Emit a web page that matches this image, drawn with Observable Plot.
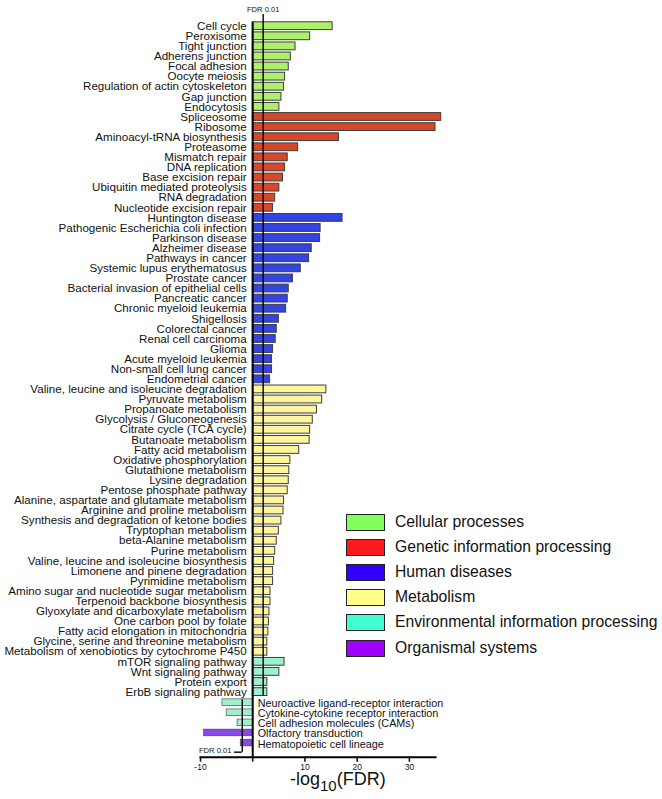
<!DOCTYPE html>
<html>
<head>
<meta charset="utf-8">
<script src="https://cdn.jsdelivr.net/npm/d3@7"></script>
<script src="https://cdn.jsdelivr.net/npm/@observablehq/plot@0.6"></script>
<style>
  html, body { margin: 0; padding: 0; background: #fff; }
  #wrap { position: relative; width: 662px; height: 799px; font-family: "Liberation Sans", Arial, Helvetica, sans-serif; }
  #legend { position: absolute; left: 346px; top: 514px; }
  .lrow { position: absolute; left: 0; height: 18px; white-space: nowrap; }
  .sw { position: absolute; left: 0; top: 0; width: 37px; height: 15px; border: 1.5px solid #222; }
  .lt { position: absolute; left: 49px; top: -1px; font-size: 15.7px; line-height: 18px; color: #111; }
  #xtitle { position: absolute; left: 290px; top: 773px; font-size: 18px; line-height: 13px; color: #111; white-space: nowrap; }
  #xtitle sub { font-size: 15px; vertical-align: -6px; line-height: 0; }
</style>
</head>
<body>
<div id="wrap"></div>
<script>
// ---------- data ----------
const categories = ["Cellular processes", "Genetic information processing", "Human diseases", "Metabolism", "Environmental information processing", "Organismal systems"];
const barColors = ["#aef06c", "#d9472a", "#3344e2", "#fff59d", "#9cf0cc", "#8a48e6"];
const legendColors = ["#80ff5c", "#ff1a22", "#3300ff", "#ffff88", "#40ffd0", "#a000ff"];

const cellularNames = ["Cell cycle", "Peroxisome", "Tight junction", "Adherens junction", "Focal adhesion", "Oocyte meiosis", "Regulation of actin cytoskeleton", "Gap junction", "Endocytosis"];
const cellularValues = [15.3, 11.0, 8.2, 7.3, 6.9, 6.2, 6.0, 5.5, 5.1];

const geneticNames = ["Spliceosome", "Ribosome", "Aminoacyl-tRNA biosynthesis", "Proteasome", "Mismatch repair", "DNA replication", "Base excision repair", "Ubiquitin mediated proteolysis", "RNA degradation", "Nucleotide excision repair"];
const geneticValues = [36.1, 35.0, 16.5, 8.7, 6.7, 6.2, 5.8, 5.1, 4.3, 3.9];

const humanNames = ["Huntington disease", "Pathogenic Escherichia coli infection", "Parkinson disease", "Alzheimer disease", "Pathways in cancer", "Systemic lupus erythematosus", "Prostate cancer", "Bacterial invasion of epithelial cells", "Pancreatic cancer", "Chronic myeloid leukemia", "Shigellosis", "Colorectal cancer", "Renal cell carcinoma", "Glioma", "Acute myeloid leukemia", "Non-small cell lung cancer", "Endometrial cancer"];
const humanValues = [17.2, 13.0, 12.9, 11.3, 10.8, 9.2, 7.7, 6.9, 6.7, 6.4, 5.0, 4.6, 4.4, 3.9, 3.7, 3.7, 3.3];

const metabolismNames = ["Valine, leucine and isoleucine degradation", "Pyruvate metabolism", "Propanoate metabolism", "Glycolysis / Gluconeogenesis", "Citrate cycle (TCA cycle)", "Butanoate metabolism", "Fatty acid metabolism", "Oxidative phosphorylation", "Glutathione metabolism", "Lysine degradation", "Pentose phosphate pathway", "Alanine, aspartate and glutamate metabolism", "Arginine and proline metabolism", "Synthesis and degradation of ketone bodies", "Tryptophan metabolism", "beta-Alanine metabolism", "Purine metabolism", "Valine, leucine and isoleucine biosynthesis", "Limonene and pinene degradation", "Pyrimidine metabolism", "Amino sugar and nucleotide sugar metabolism", "Terpenoid backbone biosynthesis", "Glyoxylate and dicarboxylate metabolism", "One carbon pool by folate", "Fatty acid elongation in mitochondria", "Glycine, serine and threonine metabolism", "Metabolism of xenobiotics by cytochrome P450"];
const metabolismValues = [14.1, 13.3, 12.3, 11.5, 11.0, 10.9, 8.9, 7.2, 7.0, 6.9, 6.7, 6.0, 5.9, 5.5, 5.0, 4.6, 4.3, 4.1, 3.9, 3.9, 3.4, 3.4, 3.2, 3.1, 3.0, 2.8, 2.8];

const environmentalNames = ["mTOR signaling pathway", "Wnt signaling pathway", "Protein export", "ErbB signaling pathway", "Neuroactive ligand-receptor interaction", "Cytokine-cytokine receptor interaction", "Cell adhesion molecules (CAMs)"];
const environmentalValues = [6.1, 5.1, 2.8, 2.8, -5.8, -5.0, -2.9];

const organismalNames = ["Olfactory transduction", "Hematopoietic cell lineage"];
const organismalValues = [-9.3, -2.3];

const xTicks = [-10, 0, 10, 20, 30];
const xDomain = [-10, 35];
const fdrThreshold = 2; // -log10(0.01)
const fdrLabel = "FDR 0.01";

// ---------- build table ----------
const groups = [
  [cellularNames, cellularValues],
  [geneticNames, geneticValues],
  [humanNames, humanValues],
  [metabolismNames, metabolismValues],
  [environmentalNames, environmentalValues],
  [organismalNames, organismalValues]
];
const rows = [];
groups.forEach(([names, vals], gi) => names.forEach((n, i) => rows.push({name: n, value: vals[i], category: categories[gi]})));
const names = rows.map(d => d.name);
const pos = rows.filter(d => d.value > 0);
const neg = rows.filter(d => d.value < 0);
const firstName = names[0];
const lastName = names[names.length - 1];
const lastPos = pos[pos.length - 1].name;
const firstNeg = neg[0].name;

const font = "'Liberation Sans', Arial, Helvetica, sans-serif";

const chart = Plot.plot({
  width: 662,
  height: 799,
  marginLeft: 200,
  marginRight: 227,
  marginTop: 20.65,
  marginBottom: 42.3,
  style: {fontFamily: font, color: "#111", background: "white"},
  x: {domain: xDomain, axis: null},
  y: {domain: names, range: [20.65, 747.1], padding: 0, round: false, axis: null},
  color: {domain: categories, range: barColors},
  marks: [
    Plot.barX(pos, {x: "value", y: "name", fill: "category", stroke: "#3d3d3d", strokeWidth: 1, insetTop: 1.15, insetBottom: 1.15}),
    Plot.barX(neg, {x: "value", y: "name", fill: "category", stroke: "#3d3d3d", strokeWidth: 0.6, insetTop: 2.2, insetBottom: 1.2}),
    Plot.text(pos, {x: 0, y: "name", text: "name", textAnchor: "end", dx: -6, fontSize: 11.6, fill: "#111"}),
    Plot.text(neg, {x: 0, y: "name", text: "name", textAnchor: "start", dx: 5, dy: 1.5, fontSize: 10.8, fill: "#111"}),
    // FDR threshold lines
    Plot.ruleX([fdrThreshold], {y1: () => firstName, y2: () => lastPos, insetTop: -6.6, insetBottom: 1.5, stroke: "#000", strokeWidth: 1.4}),
    Plot.ruleX([-fdrThreshold], {y1: () => firstNeg, y2: () => lastName, insetTop: 2.5, insetBottom: -4.6, stroke: "#000", strokeWidth: 1.4}),
    Plot.ruleY([lastName], {y: d => d, x1: -3.5, x2: -fdrThreshold, dy: 9.6, stroke: "#000", strokeWidth: 1.4}),
    Plot.text([fdrLabel], {x: fdrThreshold, frameAnchor: "top", dy: -15, fontSize: 7.6, fill: "#111"}),
    Plot.text([fdrLabel], {x: -3.5, y: () => lastName, dx: -3, dy: 8.5, textAnchor: "end", fontSize: 7.6, fill: "#111"}),
    // zero line
    Plot.ruleX([0], {y1: () => firstName, y2: () => lastName, insetTop: 1, insetBottom: -9.6, stroke: "#000", strokeWidth: 2}),
    // x axis
    Plot.frame({anchor: "bottom", stroke: "#000", strokeWidth: 2}),
    Plot.axisX({ticks: xTicks, tickFormat: d => d === 0 ? "" : String(d), tickSize: 5, tickPadding: 2, fontSize: 8.5, strokeWidth: 1.6, label: null})
  ]
});

const wrap = document.getElementById("wrap");
wrap.appendChild(chart);

// legend
const legend = document.createElement("div");
legend.id = "legend";
categories.forEach((c, i) => {
  const r = document.createElement("div");
  r.className = "lrow";
  r.style.top = (i * 25.1) + "px";
  const sw = document.createElement("div");
  sw.className = "sw";
  sw.style.background = legendColors[i];
  const t = document.createElement("div");
  t.className = "lt";
  t.textContent = c;
  r.appendChild(sw); r.appendChild(t);
  legend.appendChild(r);
});
wrap.appendChild(legend);

// axis title
const xt = document.createElement("div");
xt.id = "xtitle";
xt.innerHTML = "-log<sub>10</sub>(FDR)";
wrap.appendChild(xt);
</script>
</body>
</html>
